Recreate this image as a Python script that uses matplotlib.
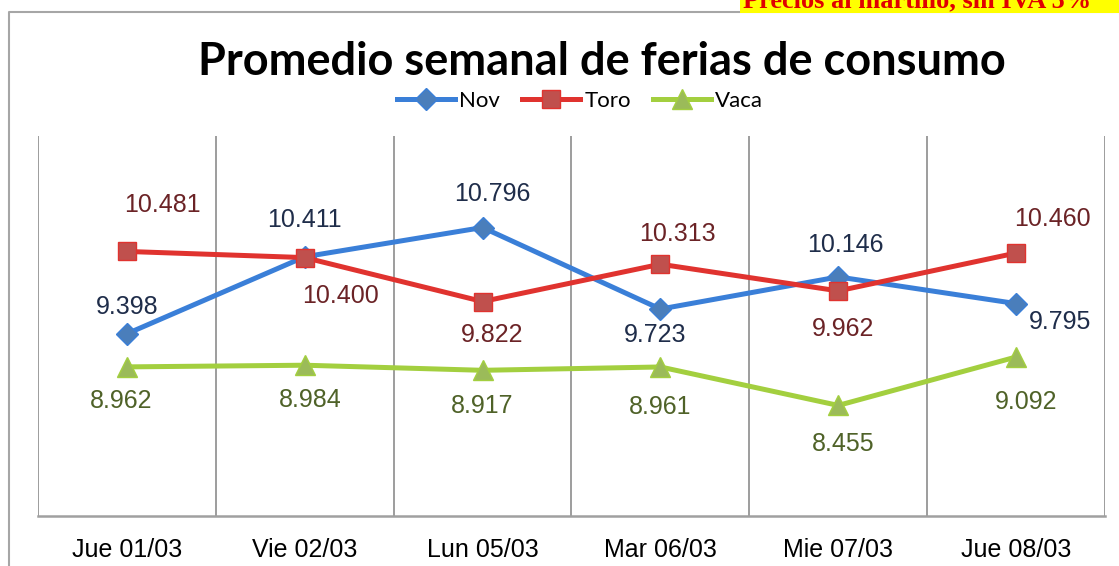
import matplotlib.pyplot as plt
from matplotlib.lines import Line2D
from matplotlib.patches import Rectangle

# datos
fechas = ['Jue 01/03', 'Vie 02/03', 'Lun 05/03', 'Mar 06/03', 'Mie 07/03', 'Jue 08/03']
nov = [9.398, 10.411, 10.796, 9.723, 10.146, 9.795]
toro = [10.481, 10.400, 9.822, 10.313, 9.962, 10.460]
vaca = [8.962, 8.984, 8.917, 8.961, 8.455, 9.092]

# desplazamiento de las etiquetas (pixeles)
off_nov = [(0, 27), (0, 37), (10, 34), (-5, -26), (7, 32), (44, -18)]
off_toro = [(36, 46), (36, -38), (10, -33), (17, 30), (5, -38), (36, 34)]
off_vaca = [(-6, -34), (6, -35), (0, -36), (0, -40), (5, -39), (10, -45)]

x = list(range(len(fechas)))

fig = plt.figure(figsize=(11.19, 5.66), dpi=100)
W, H = 1119, 566

# marco del grafico
fig.add_artist(Line2D([9 / W, 9 / W, 1], [0, 1 - 12 / H, 1 - 12 / H], transform=fig.transFigure,
                      color='#A6A6A6', lw=1.5))

# franja superior
fig.patches.append(Rectangle((740 / W, 1 - 13 / H), 379 / W, 13 / H, transform=fig.transFigure,
                             facecolor='#FFFF00', edgecolor='none', zorder=5))
fig.text(743 / W, 1 - 7 / H, 'Precios al martillo, sin IVA 5%', ha='left', va='baseline',
         color='#E00000', fontsize=19, fontweight='bold', family='Liberation Serif', zorder=6)

ax = fig.add_axes([38 / W, 50 / H, 1067 / W, 380 / H])
ax.set_xlim(-0.5, 5.5)
ax.set_ylim(7, 12)

for b in [i - 0.5 for i in range(len(fechas) + 1)]:
    ax.axvline(b, color='#8C8C8C', lw=1.2, zorder=1)

ax.plot(x, nov, color='#3A7FD8', lw=3.6, marker='D', markersize=11,
        markerfacecolor='#4A7EBB', markeredgecolor='#3A7FD8', label='Nov', zorder=3)
ax.plot(x, toro, color='#E0332F', lw=3.6, marker='s', markersize=13,
        markerfacecolor='#C0504D', markeredgecolor='#E0332F', label='Toro', zorder=3)
ax.plot(x, vaca, color='#A3CF3F', lw=3.6, marker='^', markersize=14,
        markerfacecolor='#9BBB59', markeredgecolor='#A3CF3F', label='Vaca', zorder=3)

for serie, offs, col in [(nov, off_nov, '#1F2D4A'), (toro, off_toro, '#6B2326'),
                         (vaca, off_vaca, '#4F6228')]:
    for i, v in enumerate(serie):
        ax.annotate(f'{v:.3f}', (i, v), xytext=offs[i], textcoords='offset pixels',
                    ha='center', va='center', fontsize=18, color=col,
                    family='Liberation Sans', zorder=4)

for s in ['top', 'left', 'right']:
    ax.spines[s].set_visible(False)
ax.spines['bottom'].set_color('#A0A0A0')
ax.spines['bottom'].set_linewidth(1.8)
ax.set_yticks([])
ax.set_xticks(x)
ax.set_xticklabels(fechas, fontsize=18, family='Liberation Sans')
ax.tick_params(axis='x', length=0, pad=16)

fig.text(602 / W, 1 - 62 / H, 'Promedio semanal de ferias de consumo', ha='center', va='center',
         fontsize=32.5, fontweight='bold', family='Lato')

leg = fig.legend(loc='center', bbox_to_anchor=(580 / W, 1 - 101 / H), ncol=3, frameon=False,
                 prop={'family': 'Lato', 'size': 16}, handlelength=2.6, columnspacing=1.0,
                 handletextpad=0.2)

fig.savefig('out.png', dpi=100)
